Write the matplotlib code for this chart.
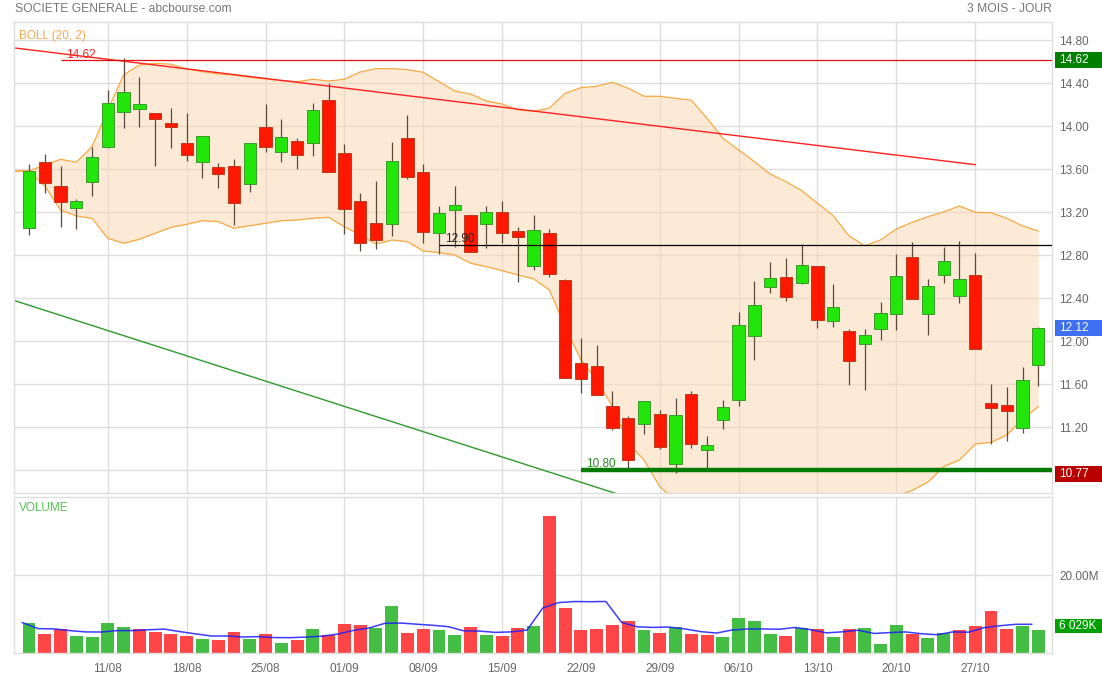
import numpy as np
import matplotlib
matplotlib.use('Agg')
import matplotlib.pyplot as plt
import matplotlib.transforms as mtransforms
from matplotlib.patches import Rectangle

plt.rcParams['font.family'] = ['Liberation Sans', 'DejaVu Sans']

# --- donnees (65 seances, 04/08 -> 31/10) ---
dates = ['11/08', '18/08', '25/08', '01/09', '08/09', '15/09',
         '22/09', '29/09', '06/10', '13/10', '20/10', '27/10']
date_pos = [5, 10, 15, 20, 25, 30, 35, 40, 45, 50, 55, 60]

opens = [13.057, 13.665, 13.442, 13.243, 13.485, 13.81, 14.136, 14.164, 14.124, 14.031,
         13.842, 13.671, 13.621, 13.631, 13.46, 13.993, 13.758, 13.86, 13.842, 14.245,
         13.749, 13.305, 13.098, 13.094, 13.888, 13.572, 13.005, 13.221, 13.175, 13.094,
         13.2, 13.026, 12.698, 13.004, 12.57, 11.795, 11.767, 11.398, 11.284, 11.228,
         11.324, 10.856, 11.51, 10.986, 11.265, 11.451, 12.052, 12.508, 12.595, 12.545,
         12.698, 12.192, 12.093, 11.972, 12.117, 12.251, 12.781, 12.251, 12.614, 12.419,
         12.614, 11.423, 11.405, 11.191, 11.777]
closes = [13.584, 13.475, 13.299, 13.305, 13.714, 14.214, 14.319, 14.207, 14.071, 13.996,
          13.737, 13.907, 13.553, 13.284, 13.842, 13.805, 13.90, 13.73, 14.149, 13.578,
          13.228, 12.917, 12.945, 13.674, 13.53, 13.02, 13.195, 13.264, 12.834, 13.2,
          13.005, 12.967, 13.032, 12.623, 11.656, 11.647, 11.503, 11.196, 10.893, 11.442,
          11.02, 11.314, 11.042, 11.035, 11.386, 12.149, 12.335, 12.586, 12.415, 12.707,
          12.201, 12.316, 11.82, 12.056, 12.26, 12.605, 12.391, 12.512, 12.744, 12.577,
          11.931, 11.377, 11.349, 11.637, 12.12]
highs = [13.647, 13.74, 13.631, 13.324, 13.81, 14.338, 14.633, 14.456, 14.124, 14.167,
         14.127, 13.907, 13.659, 13.699, 13.842, 14.205, 14.068, 13.888, 14.214, 14.40,
         13.833, 13.377, 13.491, 13.851, 14.105, 13.647, 13.261, 13.442, 13.175, 13.261,
         13.305, 13.063, 13.175, 13.042, 12.58, 12.028, 11.963, 11.535, 11.305, 11.442,
         11.361, 11.47, 11.54, 11.119, 11.454, 12.27, 12.558, 12.735, 12.772, 12.902,
         12.698, 12.53, 12.112, 12.112, 12.368, 12.815, 12.921, 12.577, 12.88, 12.933,
         12.824, 11.60, 11.572, 11.758, 12.136]
lows = [12.986, 13.382, 13.066, 13.042, 13.354, 13.80, 13.987, 13.996, 13.634, 13.795,
        13.68, 13.516, 13.423, 13.079, 13.386, 13.758, 13.671, 13.60, 13.721, 13.578,
        12.995, 12.839, 12.856, 12.982, 13.507, 12.917, 12.81, 12.88, 12.834, 12.865,
        12.917, 12.554, 12.66, 12.60, 11.656, 11.516, 11.503, 11.175, 10.80, 11.135,
        10.995, 10.772, 11.01, 10.80, 11.181, 11.401, 11.823, 12.452, 12.378, 12.53,
        12.121, 12.13, 11.591, 11.547, 12.009, 12.102, 12.391, 12.056, 12.54, 12.353,
        11.931, 11.042, 11.073, 11.144, 11.581]

boll_up = [13.584, 13.640, 13.693, 13.665, 13.810, 14.152, 14.477, 14.570, 14.586, 14.577,
           14.533, 14.508, 14.487, 14.477, 14.456, 14.440, 14.424, 14.415, 14.437, 14.421,
           14.437, 14.505, 14.536, 14.536, 14.527, 14.502, 14.415, 14.328, 14.300, 14.235,
           14.207, 14.152, 14.140, 14.170, 14.307, 14.359, 14.372, 14.409, 14.353, 14.279,
           14.279, 14.260, 14.242, 14.074, 13.888, 13.780, 13.671, 13.556, 13.485, 13.401,
           13.284, 13.168, 12.980, 12.889, 12.942, 13.045, 13.107, 13.159, 13.203, 13.259,
           13.200, 13.196, 13.144, 13.073, 13.026]
boll_low = [13.584, 13.445, 13.221, 13.166, 13.144, 12.958, 12.912, 12.949, 13.005, 13.060,
            13.088, 13.122, 13.113, 13.051, 13.075, 13.098, 13.122, 13.128, 13.144, 13.153,
            13.066, 12.989, 12.905, 12.942, 12.927, 12.840, 12.824, 12.803, 12.726, 12.694,
            12.657, 12.617, 12.580, 12.477, 12.136, 11.826, 11.640, 11.392, 11.051, 10.896,
            10.647, 10.52, 10.43, 10.36, 10.32, 10.29, 10.26, 10.26, 10.28, 10.30,
            10.32, 10.36, 10.41, 10.47, 10.52, 10.56, 10.612, 10.691, 10.833, 10.896,
            11.045, 11.060, 11.128, 11.277, 11.392]

# volumes en millions
volumes = [7.78, 4.87, 6.15, 4.44, 4.10, 7.69, 6.67, 6.15, 5.47, 4.96,
           4.44, 3.76, 3.50, 5.47, 3.68, 4.87, 2.56, 3.42, 6.24, 4.79,
           7.61, 7.26, 6.58, 12.14, 5.13, 6.15, 5.90, 4.79, 6.75, 4.79,
           4.53, 6.58, 7.01, 35.04, 11.71, 5.90, 6.32, 7.35, 8.21, 6.07,
           5.21, 6.75, 4.96, 4.79, 4.19, 9.06, 8.21, 4.87, 4.44, 6.50,
           6.15, 4.19, 6.15, 6.50, 2.39, 7.26, 5.04, 3.85, 5.21, 5.98,
           6.92, 10.85, 6.32, 7.01, 6.03]
vol_ma = [7.86, 6.32, 6.24, 5.81, 5.47, 5.45, 5.81, 5.81, 6.02, 6.19,
          5.54, 4.96, 4.43, 4.43, 4.17, 4.26, 4.02, 4.00, 4.15, 4.38,
          4.92, 5.86, 6.50, 7.68, 7.74, 7.45, 7.18, 6.82, 5.74, 5.68,
          5.35, 5.49, 5.93, 11.59, 12.97, 13.25, 13.20, 13.26, 7.90, 6.77,
          6.63, 6.72, 6.24, 5.56, 5.18, 5.95, 6.24, 6.22, 6.15, 6.62,
          6.03, 5.23, 5.49, 5.90, 5.08, 5.30, 5.47, 5.01, 4.75, 5.47,
          5.40, 6.56, 7.06, 7.42, 7.43]

price_ticks = [10.8, 11.2, 11.6, 12.0, 12.4, 12.8, 13.2, 13.6, 14.0, 14.4, 14.8]

red_trend_x = [-1.0, 60.0]
red_trend_y = [14.73, 13.643]
green_trend_x = [-0.95, 40.0]
green_trend_y = [12.38, 10.454]

levels = [14.62, 12.90, 10.80]
level_start = [2, 26, 35]

last_close = 12.12
lowest = 10.77
last_vol_label = '6 029K'

# --- mise en page ---
W, H = 1102, 677
fig = plt.figure(figsize=(W / 100, H / 100), dpi=100)
fig.patch.set_facecolor('white')

ax = fig.add_axes([14 / W, 1 - 493 / H, 1038 / W, 471 / H])
axv = fig.add_axes([14 / W, 1 - 653.3 / H, 1038 / W, 156.3 / H])

idx = np.arange(len(closes))
o = np.array(opens)
c = np.array(closes)
up = c >= o

GRID = '#dddddd'
for a in (ax, axv):
    a.set_xlim(-0.95, 64.87)
    a.set_axisbelow(True)
    a.grid(True, color=GRID, lw=1)
    for s in a.spines.values():
        s.set_color(GRID)
        s.set_linewidth(1)
    a.set_xticks(date_pos)
    a.yaxis.tick_right()
    a.tick_params(length=0, colors='#666666', labelsize=8.5)

ax.set_ylim(10.589, 14.970)
ax.set_yticks(price_ticks)
ax.set_yticklabels(['%.2f' % t for t in price_ticks])
ax.tick_params(axis='y', pad=5)
ax.set_xticklabels([])

# bandes de Bollinger
bx = np.concatenate([[idx[0] - 1], idx])
bu = np.concatenate([[boll_up[0]], boll_up])
bl = np.concatenate([[boll_low[0]], boll_low])
ax.fill_between(bx, bl, bu, color='#fbd7b0', alpha=0.5, lw=0, zorder=1)
ax.plot(bx, bu, color='#f7a940', lw=0.9, zorder=1.5)
ax.plot(bx, bl, color='#f7a940', lw=0.9, zorder=1.5)

# droites de tendance
ax.plot(red_trend_x, red_trend_y, color='#ff2020', lw=1.0, zorder=2)
ax.plot(green_trend_x, green_trend_y, color='#2e9a2e', lw=1.0, zorder=2)

# chandeliers
ax.vlines(idx, lows, highs, color='#5c4b3c', lw=0.9, zorder=3)
body_col = np.where(up, '#22e60a', '#ff1800')
edge_col = np.where(up, '#3c9a2a', '#c03a1a')
ax.bar(idx, np.maximum(np.abs(c - o), 0.004), bottom=np.minimum(o, c), width=0.78,
       color=body_col, edgecolor=edge_col, linewidth=0.7, zorder=4)

# niveaux horizontaux
ax.hlines(levels[0], level_start[0], 64.87, color='#e01010', lw=0.9, zorder=6)
ax.hlines(levels[1], level_start[1], 64.87, color='#000000', lw=0.9, zorder=6)
ax.hlines(levels[2], level_start[2], 64.87, color='#007a00', lw=3.2, zorder=6)
ax.annotate('%.2f' % levels[0], (level_start[0], levels[0]), xytext=(4, 1.5),
            textcoords='offset points', color='#ff2020', fontsize=8.5, zorder=7)
ax.annotate('%.2f' % levels[1], (level_start[1], levels[1]), xytext=(4, 1.5),
            textcoords='offset points', color='#222222', fontsize=8.5, zorder=7)
ax.annotate('%.2f' % levels[2], (level_start[2], levels[2]), xytext=(4, 2.5),
            textcoords='offset points', color='#2a8a2a', fontsize=8.5, zorder=7)


def tag(a, y, h, text, color):
    tr = mtransforms.blended_transform_factory(a.transAxes, a.transData)
    a.add_patch(Rectangle((1.003, y - h / 2), 0.0455, h, transform=tr, clip_on=False,
                          facecolor=color, edgecolor='none', zorder=8))
    a.text(1.0068, y, text, transform=tr, color='white', fontsize=8.5,
           va='center', ha='left', zorder=9, clip_on=False)


tag(ax, levels[0], 0.149, '%.2f' % levels[0], '#008000')
tag(ax, last_close, 0.149, '%.2f' % last_close, '#3d6ff0')
tag(ax, lowest, 0.149, '%.2f' % lowest, '#b80000')

ax.text(0.0048, 0.983, 'BOLL (20, 2)', transform=ax.transAxes, color='#f5a850',
        fontsize=8.5, va='top', ha='left')

# volumes
vol_up = np.r_[True, c[1:] >= c[:-1]]
axv.bar(idx, volumes, width=0.82, color=np.where(vol_up, '#3dbb3d', '#ff4040'),
        alpha=0.97, lw=0, zorder=2)
axv.plot(idx - 0.42, vol_ma, color='#1a1aff', lw=1.1, alpha=0.85, zorder=3)
axv.set_ylim(0, 40)
axv.set_yticks([20])
axv.set_yticklabels(['20.00M'])
axv.tick_params(axis='y', pad=5)
axv.set_xticklabels(dates)
axv.tick_params(axis='x', pad=7)
tag(axv, 7.0, 3.6, last_vol_label, '#00a000')
axv.text(0.0048, 0.97, 'VOLUME', transform=axv.transAxes, color='#55c055',
         fontsize=8.5, va='top', ha='left')

# titres
fig.text(15 / W, 1 - 8.5 / H, 'SOCIETE GENERALE - abcbourse.com', color='#777777',
         fontsize=8.7, va='center', ha='left')
fig.text(1052 / W, 1 - 8.5 / H, '3 MOIS - JOUR', color='#777777',
         fontsize=8.7, va='center', ha='right')

fig.savefig('out.png', dpi=100)
